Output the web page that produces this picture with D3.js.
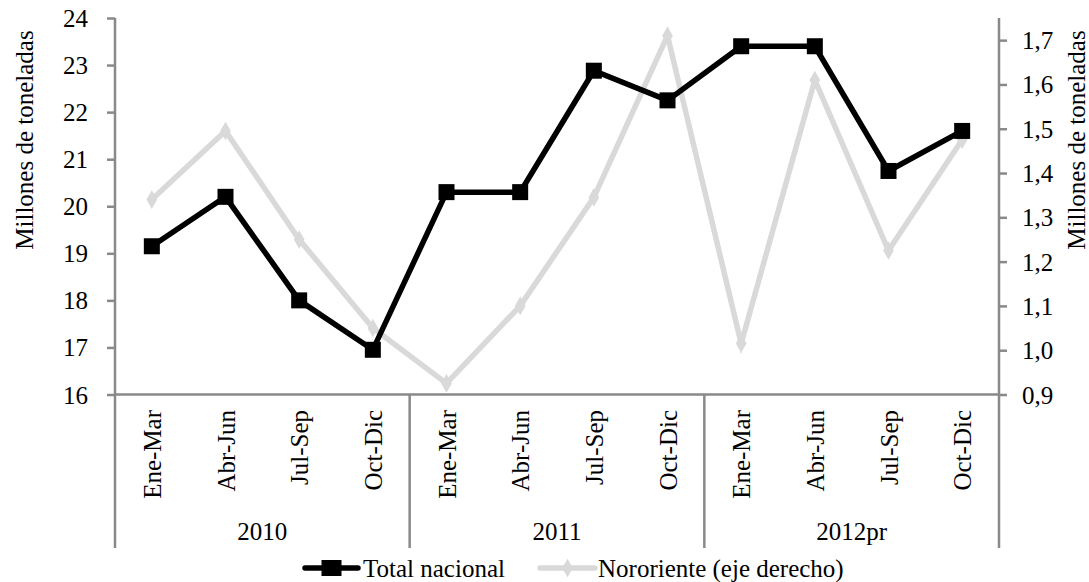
<!DOCTYPE html>
<html>
<head>
<meta charset="utf-8">
<script src="https://cdn.jsdelivr.net/npm/d3@7"></script>
<style>
  body { margin: 0; background: #fff; }
  text { font-family: "Liberation Serif", "Times New Roman", serif; fill: #000; }
</style>
</head>
<body>
<script>
const width = 1089;
const height = 582;

// datos
const years = ["2010", "2011", "2012pr"];
const quarters = ["Ene-Mar", "Abr-Jun", "Jul-Sep", "Oct-Dic"];
const totalNacional = [19.15, 20.2, 18.0, 16.95, 20.3, 20.3, 22.88, 22.25, 23.4, 23.4, 20.75, 21.6];
const nororiente = [1.34, 1.495, 1.25, 1.05, 0.925, 1.1, 1.345, 1.71, 1.015, 1.61, 1.225, 1.475];
const leftTicks = [16, 17, 18, 19, 20, 21, 22, 23, 24];
const rightTicks = [0.9, 1.0, 1.1, 1.2, 1.3, 1.4, 1.5, 1.6, 1.7];
const seriesNames = ["Total nacional", "Nororiente (eje derecho)"];

const axisColor = "#898989";
const grey = "#d9d9d9";
const fs = 25;

const keys = [];
years.forEach(y => quarters.forEach(q => keys.push(y + "|" + q)));

const plotLeft = 115, plotRight = 999, plotTop = 18, plotBottom = 394.5;

const svg = d3.select("body").append("svg")
	.attr("width", width)
	.attr("height", height);

const x = d3.scaleBand().domain(keys).range([plotLeft, plotRight]).padding(0);
const xYear = d3.scaleBand().domain(years).range([plotLeft, plotRight]).padding(0);
const yL = d3.scaleLinear().domain([16, 24]).range([plotBottom, plotTop]);
const yR = d3.scaleLinear().domain([0.9, 1.75]).range([plotBottom, plotTop]);

const cx = i => x(keys[i]) + x.bandwidth() / 2;

// ejes verticales
const leftAxis = svg.append("g")
	.attr("transform", `translate(${plotLeft},0)`)
	.call(d3.axisLeft(yL).tickValues(leftTicks).tickSize(8).tickPadding(19).tickFormat(d3.format("d")));
const rightAxis = svg.append("g")
	.attr("transform", `translate(${plotRight},0)`)
	.call(d3.axisRight(yR).tickValues(rightTicks).tickSize(8).tickPadding(15)
		.tickFormat(d => d3.format(".1f")(d).replace(".", ",")));

[leftAxis, rightAxis].forEach(g => {
	g.select(".domain").attr("stroke", axisColor).attr("stroke-width", 2.5);
	g.selectAll(".tick line").attr("stroke", axisColor).attr("stroke-width", 2.5);
	g.selectAll(".tick text")
		.attr("font-size", fs)
		.attr("fill", "#000")
		.attr("dy", "0.34em");
});
leftAxis.select(".domain").attr("d", `M0,${plotTop}V${plotBottom}`);
rightAxis.select(".domain").attr("d", `M0,${plotTop}V${plotBottom}`);

// eje de categorías
svg.append("line")
	.attr("x1", plotLeft).attr("x2", plotRight)
	.attr("y1", plotBottom).attr("y2", plotBottom)
	.attr("stroke", axisColor).attr("stroke-width", 2.5);

const sepBottom = 548;
const bounds = years.map(y => xYear(y)).concat([plotRight]);
svg.selectAll(".sep")
	.data(bounds)
	.enter()
	.append("line")
	.attr("class", "sep")
	.attr("x1", d => d).attr("x2", d => d)
	.attr("y1", plotBottom).attr("y2", sepBottom)
	.attr("stroke", axisColor).attr("stroke-width", 2.5);

svg.selectAll(".qlabel")
	.data(keys)
	.enter()
	.append("text")
	.attr("class", "qlabel")
	.attr("transform", d => `translate(${x(d) + x.bandwidth() / 2 + 9},410) rotate(-90)`)
	.attr("text-anchor", "end")
	.attr("font-size", fs)
	.text(d => d.split("|")[1]);

svg.selectAll(".ylabel")
	.data(years)
	.enter()
	.append("text")
	.attr("class", "ylabel")
	.attr("x", d => xYear(d) + xYear.bandwidth() / 2)
	.attr("y", 540)
	.attr("text-anchor", "middle")
	.attr("font-size", fs)
	.text(d => d);

// títulos de ejes
svg.append("text")
	.attr("transform", `translate(33,140) rotate(-90)`)
	.attr("text-anchor", "middle")
	.attr("font-size", fs)
	.text("Millones de toneladas");
svg.append("text")
	.attr("transform", `translate(1085,140) rotate(-90)`)
	.attr("text-anchor", "middle")
	.attr("font-size", fs)
	.text("Millones de toneladas");

// series
const lineR = d3.line().x((d, i) => cx(i)).y(d => yR(d));
const lineL = d3.line().x((d, i) => cx(i)).y(d => yL(d));

svg.append("path")
	.datum(nororiente)
	.attr("d", lineR)
	.attr("fill", "none")
	.attr("stroke", grey)
	.attr("stroke-width", 5.5)
	.attr("stroke-linejoin", "miter");

const diamond = d3.symbol().type(d3.symbolDiamond).size(100);
svg.selectAll(".dmark")
	.data(nororiente)
	.enter()
	.append("path")
	.attr("class", "dmark")
	.attr("d", diamond)
	.attr("transform", (d, i) => `translate(${cx(i)},${yR(d)})`)
	.attr("fill", grey);

svg.append("path")
	.datum(totalNacional)
	.attr("d", lineL)
	.attr("fill", "none")
	.attr("stroke", "#000")
	.attr("stroke-width", 5.5)
	.attr("stroke-linejoin", "miter");

const sq = 16;
svg.selectAll(".smark")
	.data(totalNacional)
	.enter()
	.append("rect")
	.attr("class", "smark")
	.attr("x", (d, i) => cx(i) - sq / 2)
	.attr("y", d => yL(d) - sq / 2)
	.attr("width", sq)
	.attr("height", sq)
	.attr("fill", "#000");

// leyenda
const legY = 568;
const leg = svg.append("g");
leg.append("line")
	.attr("x1", 305).attr("x2", 358).attr("y1", legY).attr("y2", legY)
	.attr("stroke", "#000").attr("stroke-width", 5.5).attr("stroke-linecap", "round");
leg.append("rect")
	.attr("x", 331.5 - 10).attr("y", legY - 8).attr("width", 20).attr("height", 16)
	.attr("fill", "#000");
leg.append("text")
	.attr("x", 363).attr("y", 577)
	.attr("font-size", fs)
	.text(seriesNames[0]);

leg.append("line")
	.attr("x1", 540).attr("x2", 595).attr("y1", legY).attr("y2", legY)
	.attr("stroke", grey).attr("stroke-width", 5.5).attr("stroke-linecap", "round");
leg.append("path")
	.attr("d", diamond)
	.attr("transform", `translate(567.5,${legY})`)
	.attr("fill", grey);
leg.append("text")
	.attr("x", 598).attr("y", 577)
	.attr("font-size", fs)
	.text(seriesNames[1]);
</script>
</body>
</html>
